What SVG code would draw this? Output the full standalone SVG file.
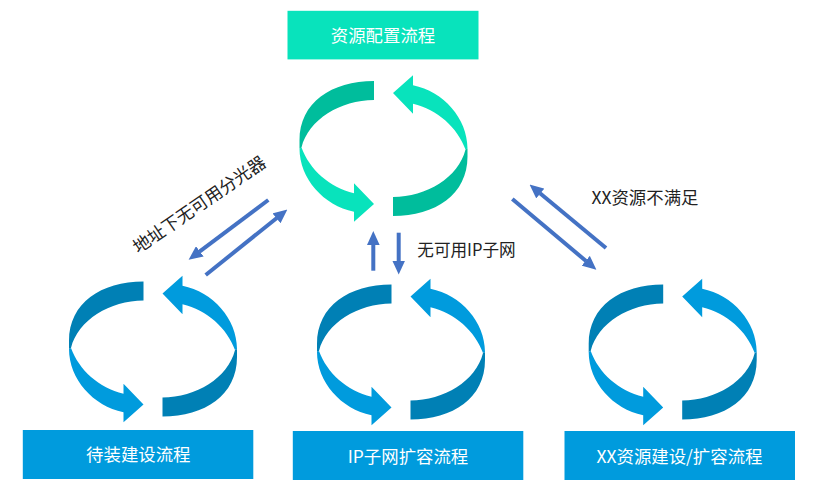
<svg xmlns="http://www.w3.org/2000/svg" xmlns:xlink="http://www.w3.org/1999/xlink" width="832" height="494" viewBox="0 0 832 494">
  <style>
    text { font-family: "Noto Sans CJK SC", "Noto Sans", sans-serif; text-anchor: middle; dominant-baseline: central; }
    .box-label { font-size: 17.4px; fill: #ffffff; }
    .edge-label { font-size: 17.4px; fill: #222222; }
    .teal { fill: #08e3bc; }
    .teal-dark { fill: #00bd9c; }
    .blue { fill: #009bdd; }
    .blue-dark { fill: #0080b5; }
    .conn { fill: none; stroke: #4472c4; stroke-width: 4; marker-end: url(#head); }
  </style>
  <defs>
    <marker id="head" viewBox="0 0 3.5 3.2" refX="0.1" refY="1.6" markerWidth="3.5" markerHeight="3.2" orient="auto" markerUnits="strokeWidth">
      <path d="M0,0 L3.5,1.6 L0,3.2 Z" fill="#4472c4"/>
    </marker>
    <path id="band" d="M-9.5,-67.5 C-52,-67.5 -84,-46 -84,-8 L-84,0 L-82,-1 C-75,-29 -43,-48.5 -9.5,-48.5 Z"/>
    <path id="arrow" d="M-82,-1 C-74,21 -54,39 -29.5,44.8 L-29.5,34.8 L-9.5,55.5 L-29.5,73.2 L-29.5,63.2 C-60,57 -84,30 -84,0 Z"/>
  </defs>
  <rect width="832" height="494" fill="#ffffff"/>

  <g id="connectors">
    <path class="conn" d="M268.3,200 L199.5,251.6"/>
    <path class="conn" d="M205.7,275 L276.8,218"/>
    <path class="conn" d="M373.3,270.7 L373.3,244.7"/>
    <path class="conn" d="M398.7,232.7 L398.7,261"/>
    <path class="conn" d="M512.3,199 L586,261"/>
    <path class="conn" d="M606,248 L540,193.2"/>
  </g>

  <g id="node-resource">
    <rect x="287.5" y="10.8" width="191" height="48.6" class="teal"/>
    <text class="box-label" x="383" y="34.2">资源配置流程</text>
    <g transform="translate(383.5,148.5)">
      <use href="#band" class="teal-dark"/>
      <use href="#arrow" class="teal"/>
      <use href="#band" class="teal-dark" transform="rotate(180)"/>
      <use href="#arrow" class="teal" transform="rotate(180)"/>
    </g>
  </g>

  <g id="node-install">
    <g transform="translate(153,349)">
      <use href="#band" class="blue-dark"/>
      <use href="#arrow" class="blue"/>
      <use href="#band" class="blue-dark" transform="rotate(180)"/>
      <use href="#arrow" class="blue" transform="rotate(180)"/>
    </g>
    <rect x="22.8" y="430" width="230.5" height="49" class="blue"/>
    <text class="box-label" x="138.3" y="453.5">待装建设流程</text>
  </g>

  <g id="node-ip">
    <g transform="translate(401,352)">
      <use href="#band" class="blue-dark"/>
      <use href="#arrow" class="blue"/>
      <use href="#band" class="blue-dark" transform="rotate(180)"/>
      <use href="#arrow" class="blue" transform="rotate(180)"/>
    </g>
    <rect x="292.8" y="431" width="230.5" height="49" class="blue"/>
    <text class="box-label" x="408" y="455.2">IP子网扩容流程</text>
  </g>

  <g id="node-xx">
    <g transform="translate(672.7,352)">
      <use href="#band" class="blue-dark"/>
      <use href="#arrow" class="blue"/>
      <use href="#band" class="blue-dark" transform="rotate(180)"/>
      <use href="#arrow" class="blue" transform="rotate(180)"/>
    </g>
    <rect x="564.5" y="431" width="230.5" height="49" class="blue"/>
    <text class="box-label" x="679.5" y="455.2">XX资源建设/扩容流程</text>
  </g>

  <g id="edge-labels">
    <text class="edge-label" x="198.5" y="203.5" transform="rotate(-34.5 198.5 203.5)">地址下无可用分光器</text>
    <text class="edge-label" x="466.5" y="248.5" style="font-size:16.6px">无可用IP子网</text>
    <text class="edge-label" x="645" y="196.5">XX资源不满足</text>
  </g>
</svg>
